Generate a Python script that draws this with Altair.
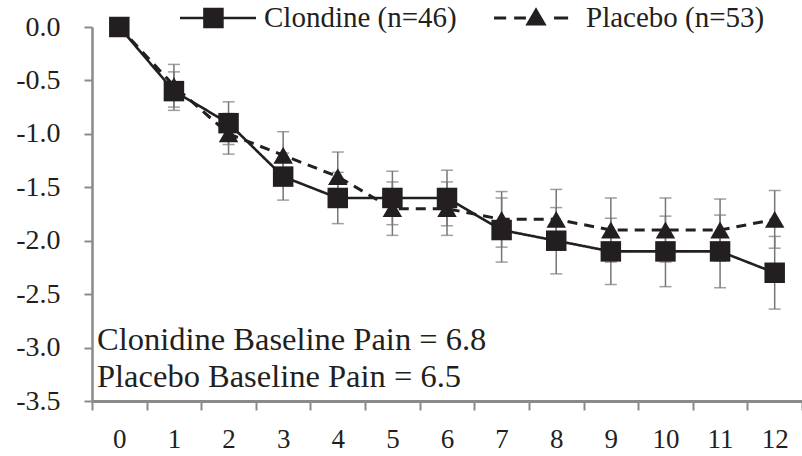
import altair as alt
import pandas as pd

weeks = list(range(13))
series_names = ["Clondine (n=46)", "Placebo (n=53)"]
clon_mean = [0.0, -0.6, -0.9, -1.4, -1.6, -1.6, -1.6, -1.9, -2.0, -2.1, -2.1, -2.1, -2.3]
clon_err = [0.0, 0.18, 0.2, 0.22, 0.24, 0.25, 0.26, 0.3, 0.31, 0.31, 0.33, 0.34, 0.34]
plac_mean = [0.0, -0.55, -1.0, -1.2, -1.4, -1.7, -1.7, -1.8, -1.8, -1.9, -1.9, -1.9, -1.8]
plac_err = [0.0, 0.2, 0.19, 0.22, 0.23, 0.25, 0.25, 0.26, 0.28, 0.3, 0.3, 0.29, 0.27]
y_ticks = [0.0, -0.5, -1.0, -1.5, -2.0, -2.5, -3.0, -3.5]
notes = ["Clonidine Baseline Pain = 6.8", "Placebo Baseline Pain = 6.5"]

BLACK = "#231f20"
GRAY = "#8a8a8a"
ERR = "#767676"
FONT = "Liberation Serif"

rows = []
for name, means, errs in [(series_names[0], clon_mean, clon_err), (series_names[1], plac_mean, plac_err)]:
    for w, m, e in zip(weeks, means, errs):
        rows.append({"week": w, "series": name, "mean": m, "lo": m - e, "hi": m + e})
df = pd.DataFrame(rows)

xscale = alt.Scale(type="band", paddingInner=0, paddingOuter=0)
yscale = alt.Scale(domain=[-3.5, 0], nice=False, zero=False)

x_enc = alt.X(
    "week:O", scale=xscale, title=None,
    axis=alt.Axis(
        tickBand="extent", labelAngle=0, domainColor=GRAY, domainWidth=3,
        tickColor=GRAY, tickWidth=2, tickSize=9, labelFont=FONT, labelFontSize=27,
        labelColor=BLACK, labelPadding=16, grid=False,
    ),
)
y_axis = alt.Axis(
    values=y_ticks, domainColor=GRAY, domainWidth=2.5, tickColor=GRAY, tickWidth=2,
    tickSize=8, labelFont=FONT, labelFontSize=28, labelColor=BLACK, labelPadding=24,
    grid=False, labelExpr="(datum.value < 0 ? '-' : '') + format(abs(datum.value), '.1f')",
)

base = alt.Chart(df)

err_rule = base.mark_rule(color=ERR, strokeWidth=1.5).encode(
    x=x_enc, y=alt.Y("lo:Q", scale=yscale, axis=y_axis, title=None), y2="hi:Q"
)
cap_lo = base.mark_tick(color=ERR, size=12, thickness=1.5).encode(
    x=x_enc, y=alt.Y("lo:Q", scale=yscale, title=None)
)
cap_hi = base.mark_tick(color=ERR, size=12, thickness=1.5).encode(
    x=x_enc, y=alt.Y("hi:Q", scale=yscale, title=None)
)

def series_layers(name, dash, width, shape, size):
    sub = base.transform_filter(alt.datum.series == name)
    line = sub.mark_line(color=BLACK, strokeWidth=width, strokeDash=dash).encode(
        x=x_enc, y=alt.Y("mean:Q", scale=yscale, title=None)
    )
    pts = sub.mark_point(filled=True, color=BLACK, opacity=1, shape=shape, size=size).encode(
        x=x_enc, y=alt.Y("mean:Q", scale=yscale, title=None)
    )
    return [line, pts]

clon_layers = series_layers(series_names[0], [1, 0], 2.6, "square", 420)
plac_layers = series_layers(series_names[1], [10, 7], 3, "triangle-up", 380)

# legend symbols drawn as filled shapes: line segments are thin rectangles
p_clon = "M-1,-0.035H1V0.035H-1ZM-0.39,-0.27H0.15V0.27H-0.39Z"
p_plac = ("M-1.21,-0.04H-0.89V0.04H-1.21Z"
          "M-0.68,-0.04H-0.37V0.04H-0.68Z"
          "M0.37,-0.04H0.74V0.04H0.37Z"
          "M-0.105,-0.28L0.175,0.2L-0.385,0.2Z")

legend_df = pd.DataFrame({"series": series_names})
legend_layer = alt.Chart(legend_df).mark_point(
    filled=True, color=BLACK, opacity=0
).encode(
    shape=alt.Shape(
        "series:N",
        scale=alt.Scale(domain=series_names, range=[p_clon, p_plac]),
        legend=alt.Legend(
            orient="none", legendX=88, legendY=-47, direction="horizontal", columns=2,
            title=None, symbolSize=5776, symbolStrokeWidth=0, symbolFillColor=BLACK,
            symbolOpacity=1, labelFont=FONT, labelFontSize=29,
            labelColor=BLACK, labelOffset=8, columnPadding=37, padding=0, labelLimit=500,
        ),
    )
)

note_df = pd.DataFrame({"k": [0]})
note_layer = alt.Chart(note_df).mark_text(
    align="left", baseline="middle", font=FONT, fontSize=32.5, color=BLACK, lineHeight=37
).encode(x=alt.value(5), y=alt.value(313), text=alt.value(notes))

chart = alt.layer(
    err_rule, cap_lo, cap_hi, *clon_layers, *plac_layers, legend_layer, note_layer
).resolve_scale(shape="independent").properties(
    width=710, height=374,
    autosize=alt.AutoSizeParams(type="none"),
    padding={"left": 92, "top": 27, "right": 0, "bottom": 55},
    background="white",
).configure_view(stroke=None)

chart.save("out.html", embed_options={"renderer": "svg", "actions": False})
